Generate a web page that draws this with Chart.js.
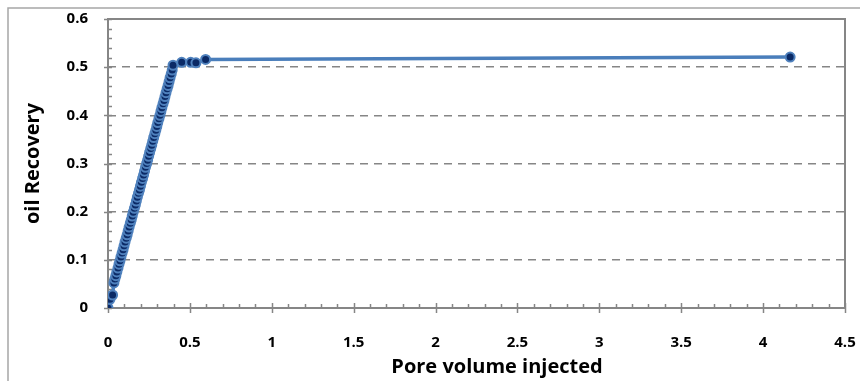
<!DOCTYPE html>
<html>
<head>
<meta charset="utf-8">
<script src="https://cdn.jsdelivr.net/npm/chart.js@4.4.1/dist/chart.umd.min.js"></script>
<style>
  html, body { margin: 0; padding: 0; background: #fff; }
  #wrap { width: 860px; height: 381px; }
</style>
</head>
<body>
<div id="wrap"><canvas id="recoveryChart" width="860" height="381"></canvas></div>
<script>
// Pore volume injected (x) and oil recovery (y)
const poreVolume = [
  0, 0.012, 0.028, 0.036, 0.042, 0.048, 0.054, 0.061, 0.067, 0.073,
  0.079, 0.086, 0.092, 0.098, 0.104, 0.111, 0.117, 0.123, 0.129, 0.136,
  0.142, 0.148, 0.154, 0.161, 0.167, 0.173, 0.179, 0.186, 0.192, 0.198,
  0.204, 0.211, 0.217, 0.223, 0.229, 0.236, 0.242, 0.248, 0.254, 0.261,
  0.267, 0.273, 0.279, 0.286, 0.292, 0.298, 0.304, 0.311, 0.317, 0.323,
  0.329, 0.336, 0.342, 0.348, 0.354, 0.361, 0.367, 0.373, 0.379, 0.386,
  0.392, 0.397, 0.45, 0.505, 0.537, 0.596, 4.165
];
const oilRecovery = [
  0, 0.018, 0.027, 0.052, 0.06, 0.067, 0.075, 0.083, 0.091, 0.098,
  0.106, 0.114, 0.121, 0.129, 0.137, 0.145, 0.152, 0.16, 0.168, 0.176,
  0.183, 0.191, 0.199, 0.207, 0.214, 0.222, 0.23, 0.238, 0.245, 0.253,
  0.261, 0.269, 0.276, 0.284, 0.292, 0.3, 0.307, 0.315, 0.323, 0.331,
  0.338, 0.346, 0.354, 0.362, 0.369, 0.377, 0.385, 0.393, 0.4, 0.408,
  0.416, 0.424, 0.431, 0.439, 0.447, 0.455, 0.462, 0.47, 0.478, 0.486,
  0.494, 0.504, 0.51, 0.51, 0.509, 0.516, 0.521
];

const xTicks = [0, 0.5, 1, 1.5, 2, 2.5, 3, 3.5, 4, 4.5];
const yTicks = [0, 0.1, 0.2, 0.3, 0.4, 0.5, 0.6];
const xTitle = 'Pore volume injected';
const yTitle = 'oil Recovery';

const points = poreVolume.map((x, i) => ({ x: x, y: oilRecovery[i] }));

const axisGray = '#868686';
const labelFont = { family: '"Open Sans", Lato, sans-serif', size: 15, weight: 'bold' };
const titleFont = { family: '"Open Sans", Lato, sans-serif', size: 20, weight: 'bold' };

// frame, plot border and the small tick marks (Excel style)
const excelFrame = {
  id: 'excelFrame',
  beforeDatasetsDraw(chart) {
    const { ctx, chartArea: a, scales: { x, y } } = chart;
    ctx.save();
    // outer chart frame (only top/left visible in the crop)
    ctx.strokeStyle = '#a6a6a6';
    ctx.lineWidth = 1.5;
    ctx.beginPath();
    ctx.moveTo(8, 381); ctx.lineTo(8, 8); ctx.lineTo(860, 8);
    ctx.stroke();

    ctx.strokeStyle = axisGray;
    ctx.lineWidth = 2;
    ctx.strokeRect(a.left, a.top, a.right - a.left, a.bottom - a.top);

    ctx.lineWidth = 1.5;
    ctx.beginPath();
    // y minor ticks every 0.02, pointing inward
    for (let k = 0; k <= 30; k++) {
      const py = Math.round(y.getPixelForValue(k * 0.02)) + 0.5;
      const major = k % 5 === 0;
      ctx.moveTo(a.left - (major ? 4 : 0), py);
      ctx.lineTo(a.left + 4, py);
    }
    // x minor ticks every 0.1, major every 0.5
    for (let k = 0; k <= 45; k++) {
      const px = Math.round(x.getPixelForValue(k * 0.1)) + 0.5;
      const major = k % 5 === 0;
      ctx.moveTo(px, a.bottom + (major ? 5 : 0));
      ctx.lineTo(px, a.bottom - (major ? 5 : 4));
    }
    ctx.stroke();

    // x axis title, Excel puts it a bit right of centre
    ctx.fillStyle = '#000';
    ctx.font = 'bold 20px "Open Sans", Lato, sans-serif';
    ctx.textAlign = 'center';
    ctx.textBaseline = 'middle';
    ctx.fillText(xTitle, 497, 367);
    ctx.restore();
  }
};

new Chart(document.getElementById('recoveryChart'), {
  type: 'scatter',
  data: {
    datasets: [{
      data: points,
      showLine: true,
      borderColor: '#4a7ebb',
      borderWidth: 3.5,
      pointRadius: 4.5,
      pointBorderWidth: 2,
      pointBackgroundColor: '#0b2a66',
      pointBorderColor: '#4f81bd',
      tension: 0
    }]
  },
  options: {
    responsive: false,
    animation: false,
    layout: { padding: { left: 8, right: 15, top: 19, bottom: 0 } },
    plugins: { legend: { display: false }, tooltip: { enabled: false } },
    scales: {
      x: {
        type: 'linear',
        min: 0, max: 4.5,
        afterFit: s => { s.height = 73; s.paddingLeft = 0; s.paddingRight = 0; },
        afterBuildTicks: s => { s.ticks = xTicks.map(v => ({ value: v })); },
        grid: { display: false, drawTicks: false },
        border: { display: false },
        ticks: { color: '#000', font: labelFont, padding: 26, maxRotation: 0, callback: v => String(v) },
        title: { display: false }
      },
      y: {
        min: 0, max: 0.6,
        afterFit: s => { s.width = 100; s.paddingTop = 0; s.paddingBottom = 0; },
        afterBuildTicks: s => { s.ticks = yTicks.map(v => ({ value: v })); },
        grid: {
          drawTicks: false,
          color: c => (c.tick.value > 0 && c.tick.value < 0.6) ? axisGray : 'rgba(0,0,0,0)',
          lineWidth: 1.5
        },
        border: { display: false, dash: [8, 6] },
        ticks: { color: '#000', font: labelFont, padding: 20, callback: v => String(v) },
        title: { display: true, text: yTitle, color: '#000', font: titleFont, padding: { top: 13, bottom: 0 } }
      }
    }
  },
  plugins: [excelFrame]
});
</script>
</body>
</html>
